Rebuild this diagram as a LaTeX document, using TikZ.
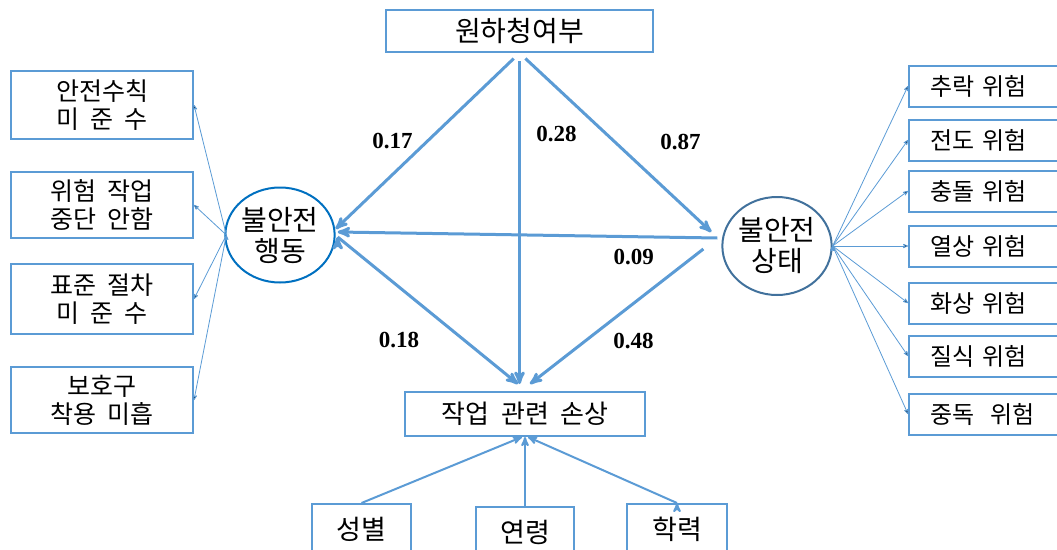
\documentclass[tikz,border=0pt]{standalone}
\usepackage{fontspec}
\setmainfont[WordSpace=2]{Noto Sans CJK KR}
\newfontfamily\numfont{Liberation Serif}
\usetikzlibrary{arrows,shapes}
\definecolor{boxblue}{RGB}{91,155,213}
\definecolor{ovalblue}{RGB}{0,112,192}
\definecolor{ovalgrey}{RGB}{65,113,156}
\tikzstyle{thin edge} = [draw=boxblue,line width=0.8pt,->,>=stealth']
\tikzstyle{thick edge} = [draw=boxblue,line width=3pt,->,>=stealth']
\tikzstyle{coef} = [font=\numfont\bfseries\fontsize{23}{25}\selectfont]

\begin{document}
\begin{tikzpicture}[x=1pt,y=-1pt,
  box/.style={draw=boxblue,line width=2pt,fill=white,inner sep=0pt,align=center,
    font=\fontsize{25}{28}\selectfont},
  risk/.style={box,minimum height=41pt,text width=124pt,inner xsep=21pt,align=left,
    font=\fontsize{24}{26}\selectfont},
  oval/.style={ellipse,line width=2pt,inner sep=0pt,align=center,
    font=\fontsize{28}{31}\selectfont}]

  \useasboundingbox (0,0) rectangle (1057,549);

  \node[box,minimum width=267pt,minimum height=42pt,font=\fontsize{28}{30}\selectfont] (top) at (519.5,31) {원하청여부};
  \node[box,minimum width=240pt,minimum height=44pt,font=\fontsize{26}{28}\selectfont] (dmg) at (525,414) {작업 관련 손상};

  \node[oval,draw=ovalblue,minimum width=106pt,minimum height=95pt] (act) at (280,235) {불안전\\행동};
  \node[oval,draw=ovalgrey,minimum width=107pt,minimum height=98pt] (cond) at (777,246) {불안전\\상태};

  \node[box,minimum width=182pt,minimum height=68pt] (a1) at (102,105) {안전수칙\\미 준 수};
  \node[box,minimum width=182pt,minimum height=66pt] (a2) at (102,205) {위험 작업\\중단 안함};
  \node[box,minimum width=182pt,minimum height=70pt] (a3) at (102,299) {표준 절차\\미 준 수};
  \node[box,minimum width=182pt,minimum height=66pt] (a4) at (102,400) {보호구\\착용 미흡};

  \node[risk] (c1) at (992,86) {추락 위험};
  \node[risk] (c2) at (992,140) {전도 위험};
  \node[risk] (c3) at (992,191) {충돌 위험};
  \node[risk] (c4) at (992,246) {열상 위험};
  \node[risk] (c5) at (992,303) {화상 위험};
  \node[risk] (c6) at (992,356) {질식 위험};
  \node[risk] (c7) at (992,414) {중독\ \ 위험};

  \node[box,minimum width=99pt,minimum height=50pt,font=\fontsize{27}{29}\selectfont] (sex) at (361.5,529) {성별};
  \node[box,minimum width=98pt,minimum height=50pt,font=\fontsize{27}{29}\selectfont] (age) at (525,532) {연령};
  \node[box,minimum width=100pt,minimum height=50pt,font=\fontsize{27}{29}\selectfont] (edu) at (677,529) {학력};

  \path[thick edge]
    (top.south) edge[shorten <=8pt] node[coef,midway,left=10pt] {0.17} ([yshift=6pt]act.east)
    (top.south) edge[shorten <=8pt,shorten >=7pt] node[coef,pos=0.24,right=12pt] {0.28} (top.south |- dmg.north)
    (top.south) edge[shorten <=8pt] node[coef,midway,right=40pt] {0.87} ([shift={(-10,-14)}]cond.west)
    ([shift={(-4,-8)}]cond.west) edge node[coef,pos=0.22,below=8pt] {0.09} ([shift={(2,-3)}]act.east)
    ([shift={(-18,3)}]cond.west) edge node[coef,pos=0.68,right=23pt] {0.48} ([shift={(5,-7)}]dmg.north)
    ([shift={(2,2)}]act.east) edge node[coef,pos=0.7,left=40pt] {0.18} ([shift={(-7,-7)}]dmg.north);

  \path[thin edge]
    ([xshift=2pt]act.west) edge (a1.east)
    ([xshift=2pt]act.west) edge (a2.east)
    ([xshift=2pt]act.west) edge (a3.east)
    ([xshift=2pt]act.west) edge (a4.east);

  \foreach \i in {1,...,7}
    \path[thin edge] (cond.east) edge (c\i.west);

  \path[thin edge,line width=2pt]
    (sex.north) edge ([xshift=-3pt]dmg.south)
    (age.north) edge (dmg.south)
    (edu.north) edge ([xshift=3pt]dmg.south);

\end{tikzpicture}
\end{document}
